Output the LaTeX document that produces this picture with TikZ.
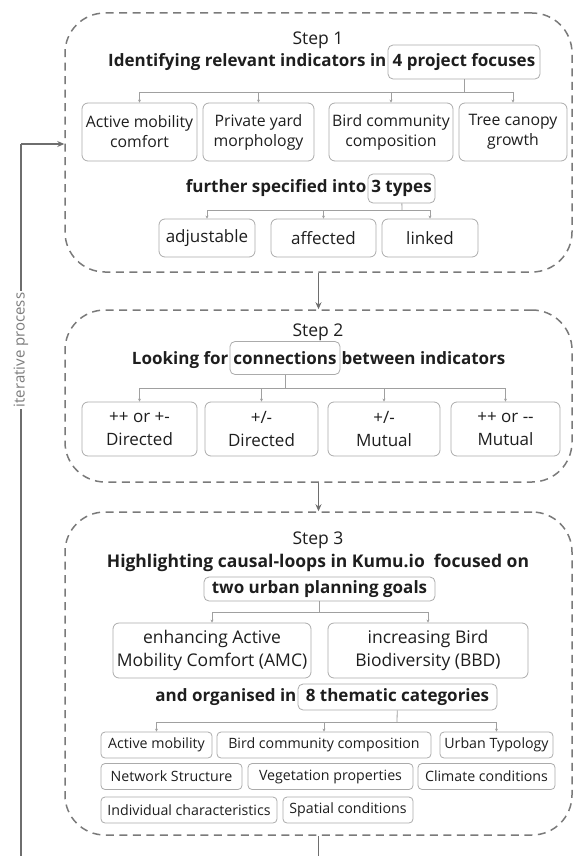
\documentclass[tikz,border=0pt]{standalone}
\usepackage{fontspec}
\setmainfont{Open Sans}
\usepackage{tikz}
\usetikzlibrary{arrows.meta,positioning,fit}
\definecolor{itframe}{HTML}{7A7A7A}
\definecolor{itarrow}{HTML}{6E6E6E}
\definecolor{itline}{HTML}{A0A0A0}
\definecolor{itbox}{HTML}{ABABAB}
\definecolor{itink}{HTML}{1E1E1E}
\definecolor{itmute}{HTML}{7C7C7C}
\tikzset{
  stepfr/.style={draw=itframe, dash pattern=on 8pt off 5.5pt, line width=1.5pt, rounded corners=40pt, inner sep=0pt},
  bx/.style={draw=itbox, rounded corners=6pt, align=center, text=itink, inner sep=2pt, line width=0.8pt, font=\fontsize{15.8}{20}\selectfont},
  big/.style={font=\fontsize{17}{23.5}\selectfont},
  itm/.style={bx, minimum height=58pt},
  typ/.style={bx, big, minimum height=38pt},
  cat/.style={bx, rounded corners=4pt, minimum height=26pt, inner sep=1pt, font=\fontsize{14.2}{17}\selectfont},
  hl/.style={bx, rounded corners=5pt, font=\fontsize{17}{20}\selectfont\bfseries},
  ttl/.style={font=\fontsize{17}{20}\selectfont\bfseries, text=itink, inner sep=0pt},
  stp/.style={font=\fontsize{17.5}{20}\selectfont, text=itink, inner sep=0pt},
  stem/.style={draw=itline, line width=0.8pt},
  tree/.style={stem, -{Stealth[length=3pt,width=3pt]}},
  flow/.style={draw=itarrow, line width=1.6pt, -{Stealth[length=7pt,width=6pt]}},
  backln/.style={draw=itarrow, line width=1.6pt},
  lbl/.style={fill=white, inner sep=2pt, text=itmute, font=\fontsize{15}{18}\selectfont, rotate=90},
}
\begin{document}
\begin{tikzpicture}[x=1pt, y=-1pt]
    \useasboundingbox (0,0) rectangle (574,856);
    % step 1
    \node[stp] (s1) at (318,40) {Step 1};
    \node[hl, minimum width=152pt, minimum height=34pt] (foc) at (464,62) {4 project focuses};
    \node[ttl, anchor=base east] (t1) at ([xshift=-1pt]foc.base west) {Identifying relevant indicators in};
    \node[itm, minimum width=115pt] (amc) at (139.5,132) {Active mobility\\comfort};
    \node[itm, minimum width=111pt] (pym) at (258.5,132) {Private yard\\morphology};
    \node[itm, minimum width=124pt] (bcc) at (391,132) {Bird community\\composition};
    \node[itm, minimum width=108pt] (tcg) at (513,132) {Tree canopy\\growth};
    \coordinate (b1) at (464,92);
    \draw[stem] (foc) -- (b1);
    \foreach \n in {amc,pym,bcc,tcg} \draw[tree] (b1) -| (\n.north);
    \node[hl, minimum width=67pt, minimum height=29pt] (typs) at (401.5,188.5) {3 types};
    \node[ttl, anchor=base east] (t1b) at ([xshift=-1pt]typs.base west) {further specified into};
    \node[typ, minimum width=96pt] (adj) at (207,238) {adjustable};
    \node[typ, minimum width=105pt] (aff) at (323.5,238) {affected};
    \node[typ, minimum width=96pt] (lnk) at (430,238) {linked};
    \coordinate (b2) at (402,210);
    \draw[stem] (typs) -- (b2);
    \foreach \n in {adj,aff,lnk} \draw[tree] (b2) -| (\n.north);
    \coordinate (f1a) at (65,13); \coordinate (f1b) at (572,272);
    \node[stepfr, fit=(f1a)(f1b)] (fr1) {};
    % step 2
    \node[stp] (s2) at (318,332) {Step 2};
    \node[hl, minimum width=110pt, minimum height=33pt] (con) at (285,358) {connections};
    \node[ttl, anchor=base east] (t2a) at ([xshift=-1pt]con.base west) {Looking for};
    \node[ttl, anchor=base west] (t2b) at ([xshift=1pt]con.base east) {between indicators};
    \node[itm, big, minimum height=54pt, minimum width=115pt] (d1) at (139.5,429) {++ or +-\\Directed};
    \node[itm, big, minimum height=54pt, minimum width=113pt] (d2) at (261.5,429) {+/-\\Directed};
    \node[itm, big, minimum height=54pt, minimum width=112pt] (d3) at (384,429) {+/-\\Mutual};
    \node[itm, big, minimum height=54pt, minimum width=109pt] (d4) at (505.5,429) {++ or -{}-\\Mutual};
    \coordinate (b3) at (285,388);
    \draw[stem] (con) -- (b3);
    \foreach \n in {d1,d2,d3,d4} \draw[tree] (b3) -| (\n.north);
    \coordinate (f2a) at (65,310); \coordinate (f2b) at (572,482);
    \node[stepfr, fit=(f2a)(f2b)] (fr2) {};
    % step 3
    \node[stp] (s3) at (318,540) {Step 3};
    \node[ttl, font=\fontsize{17.5}{20}\selectfont\bfseries] (t3) at (318,563) {Highlighting causal-loops in Kumu.io~ focused on};
    \node[hl, minimum width=231pt, minimum height=24pt, inner sep=1pt] (goal) at (319.5,589) {two urban planning goals};
    \node[itm, font=\fontsize{17.5}{23}\selectfont, minimum width=198pt, minimum height=55pt] (amcg) at (212,650.5) {enhancing Active\\Mobility Comfort (AMC)};
    \node[itm, font=\fontsize{17.5}{23}\selectfont, minimum width=200pt, minimum height=55pt] (bbd) at (428,650.5) {increasing Bird\\Biodiversity (BBD)};
    \coordinate (b4) at (319.5,612);
    \draw[stem] (goal) -- (b4);
    \foreach \n in {amcg,bbd} \draw[tree] (b4) -| (\n.north);
    \node[hl, minimum width=199pt, minimum height=26pt, inner sep=1pt] (cats) at (397.5,697) {8 thematic categories};
    \node[ttl, anchor=base east] (t3b) at ([xshift=-1pt]cats.base west) {and organised in};
    \node[cat, minimum width=111pt] (c1) at (156.5,745) {Active mobility};
    \node[cat, minimum width=214pt] (c2) at (324,745) {Bird community composition};
    \node[cat, minimum width=113pt] (c3) at (496.5,745) {Urban Typology};
    \node[cat, minimum width=141pt] (c4) at (171.5,776.5) {Network Structure};
    \node[cat, minimum width=165pt] (c5) at (330.5,776.5) {Vegetation properties};
    \node[cat, minimum width=137pt] (c6) at (486.5,776.5) {Climate conditions};
    \node[cat, minimum width=176pt] (c7) at (189,810) {Individual characteristics};
    \node[cat, minimum width=130pt] (c8) at (348,810) {Spatial conditions};
    \coordinate (b5) at (397,722);
    \draw[stem] (cats) -- (b5);
    \foreach \n in {c1,c2,c3} \draw[tree] (b5) -| (\n.north);
    \coordinate (f3a) at (65,512); \coordinate (f3b) at (572,835);
    \node[stepfr, fit=(f3a)(f3b)] (fr3) {};
    % flow and loop
    \coordinate (out) at (318.5,856);
    \coordinate (lp0) at (21,856);
    \coordinate (lp1) at (21,144);
    \draw[flow] (fr1.south) -- (fr2.north);
    \draw[flow] (fr2.south) -- (fr3.north);
    \draw[backln] (fr3.south) -- (out);
    \draw[backln] (lp0) -- (lp1);
    \draw[flow] (lp1) -- (lp1 -| fr1.west);
    \node[lbl] (itp) at (21,350) {iterative process};
\end{tikzpicture}
\end{document}
